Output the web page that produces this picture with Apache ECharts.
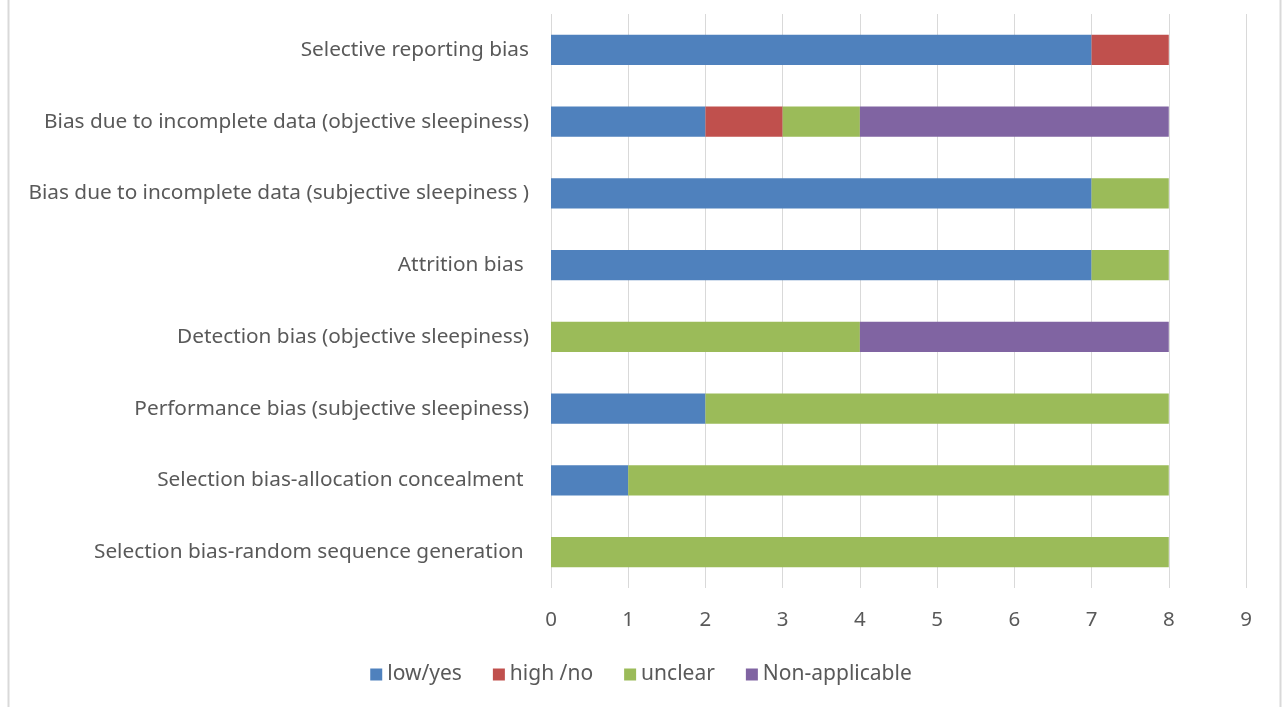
<!DOCTYPE html>
<html><head><meta charset="utf-8">
<script src="https://cdn.jsdelivr.net/npm/echarts@6/dist/echarts.min.js"></script>
<style>html,body{margin:0;padding:0;background:#fff}#c{width:1282px;height:707px}</style>
</head><body><div id="c"></div>
<script>
const categories = [
  "Selection bias-random sequence generation ",
  "Selection bias-allocation concealment ",
  "Performance bias (subjective sleepiness)",
  "Detection bias (objective sleepiness)",
  "Attrition bias ",
  "Bias due to incomplete data (subjective sleepiness )",
  "Bias due to incomplete data (objective sleepiness)",
  "Selective reporting bias"
];
const lowYes        = [0, 1, 2, 0, 7, 7, 2, 7];
const highNo        = [0, 0, 0, 0, 0, 0, 1, 1];
const unclear       = [8, 7, 6, 4, 1, 1, 1, 0];
const nonApplicable = [0, 0, 0, 4, 0, 0, 4, 0];
const xTicks = [0,1,2,3,4,5,6,7,8,9];

const FONT = "Noto Sans";
const chart = echarts.init(document.getElementById('c'), null, {renderer:'canvas'});
function s(name, data, color){
  return {name, type:'bar', stack:'t', data, barWidth:'42%',
    itemStyle:{color}, emphasis:{disabled:true}};
}
chart.setOption({
  animation:false,
  textStyle:{fontFamily:FONT},
  grid:{left:551, right:36, top:14, bottom:119, containLabel:false},
  xAxis:{type:'value', min:0, max:9, interval:1,
    axisLine:{show:false}, axisTick:{show:false},
    splitLine:{show:true, lineStyle:{color:'#d9d9d9', width:1}},
    axisLabel:{color:'#595959', fontSize:20.5, fontFamily:FONT, margin:22,
      formatter:v=>String(xTicks[v])}},
  yAxis:{type:'category', data:categories,
    axisLine:{show:false}, axisTick:{show:false},
    axisLabel:{color:'#595959', fontSize:20.8, fontFamily:FONT, margin:22}},
  legend:{top:659, left:'center', itemWidth:12, itemHeight:12, itemGap:31,
    icon:'rect', textStyle:{color:'#595959', fontSize:21, fontFamily:FONT},
    data:['low/yes','high /no','unclear','Non-applicable']},
  graphic:[
    {type:'line', shape:{x1:8.5,y1:0,x2:8.5,y2:707}, style:{stroke:'#d9d9d9', lineWidth:2}},
    {type:'line', shape:{x1:1280.5,y1:0,x2:1280.5,y2:707}, style:{stroke:'#d9d9d9', lineWidth:2}}
  ],
  series:[
    s('low/yes', lowYes, '#4F81BD'),
    s('high /no', highNo, '#C0504D'),
    s('unclear', unclear, '#9BBB59'),
    s('Non-applicable', nonApplicable, '#8064A2')
  ]
});
</script></body></html>
